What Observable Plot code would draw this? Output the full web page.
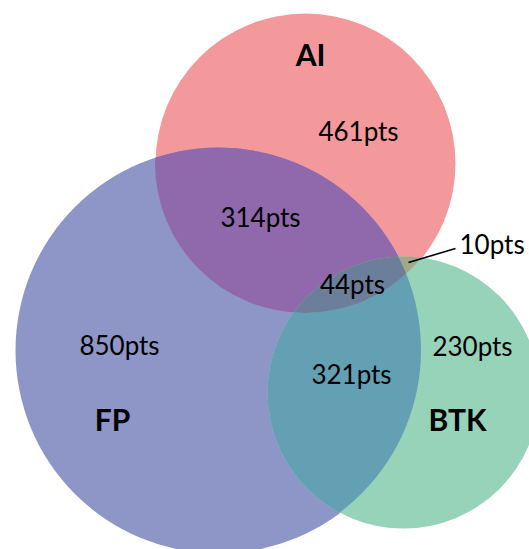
<!DOCTYPE html>
<html>
<head>
<meta charset="utf-8">
<script src="https://cdn.jsdelivr.net/npm/d3@7"></script>
<script src="https://cdn.jsdelivr.net/npm/@observablehq/plot@0.6"></script>
<style>
  html, body { margin: 0; padding: 0; background: #ffffff; }
  #chart svg { display: block; }
</style>
</head>
<body>
<div id="chart"></div>
<script>
// Sets and their region counts (points)
const sets = ["AI", "FP", "BTK"];
const regions = ["AI only", "AI ∩ FP", "AI ∩ FP ∩ BTK", "AI ∩ BTK", "FP only", "FP ∩ BTK", "BTK only"];
const counts = [461, 314, 44, 10, 850, 321, 230];

// Circle geometry in pixel space, plus the colour of each set's exclusive area
const circleLayout = {
  AI:  {cx: 305, cy: 163, r: 150, fill: "#F4999B"},
  FP:  {cx: 218, cy: 350, r: 203, fill: "#8E96C8"},
  BTK: {cx: 403, cy: 392, r: 136, fill: "#97D3B9"}
};
// Overlap areas: one circle painted inside the others
const overlapLayout = [
  {draw: "FP",  within: ["AI"],       fill: "#8F69AC"},
  {draw: "BTK", within: ["FP"],       fill: "#64A0B4"},
  {draw: "BTK", within: ["AI"],       fill: "#A2A88A"},
  {draw: "BTK", within: ["AI", "FP"], fill: "#6B7F9B"}
];
const setLabelLayout = {
  AI:  {x: 310, y: 56},
  FP:  {x: 112, y: 421},
  BTK: {x: 457, y: 421}
};
const regionLabelLayout = {
  "AI only":       {x: 358, y: 132, anchor: "middle"},
  "AI ∩ FP":       {x: 260, y: 218, anchor: "middle"},
  "AI ∩ FP ∩ BTK": {x: 352, y: 285, anchor: "middle"},
  "AI ∩ BTK":      {x: 459, y: 245, anchor: "start"},
  "FP only":       {x: 119, y: 346, anchor: "middle"},
  "FP ∩ BTK":      {x: 351, y: 375, anchor: "middle"},
  "BTK only":      {x: 472, y: 347, anchor: "middle"}
};
// Leader line for the small AI ∩ BTK region
const leader = {from: {x: 408, y: 262}, to: {x: 455, y: 248}};

const circles = sets.map(s => ({set: s, ...circleLayout[s]}));
const setLabels = sets.map(s => ({set: s, ...setLabelLayout[s]}));
const regionLabels = regions.map((r, i) => ({region: r, count: counts[i], ...regionLabelLayout[r]}));

const W = 529, H = 549;
const font = "Lato, 'Open Sans', sans-serif";
const svgNS = "http://www.w3.org/2000/svg";
let clipCount = 0;

// Render transform: clip a mark's output to the given set circles
const clipToSets = within => (index, scales, values, dimensions, context, next) => {
  let node = next(index, scales, values, dimensions, context);
  for (const s of within) {
    const c = circleLayout[s];
    const id = `venn-clip-${++clipCount}`;
    const outer = document.createElementNS(svgNS, "g");
    const cp = document.createElementNS(svgNS, "clipPath");
    cp.setAttribute("id", id);
    const shape = document.createElementNS(svgNS, "circle");
    shape.setAttribute("cx", scales.x(c.cx));
    shape.setAttribute("cy", scales.y(c.cy));
    shape.setAttribute("r", c.r);
    cp.appendChild(shape);
    const inner = document.createElementNS(svgNS, "g");
    inner.setAttribute("clip-path", `url(#${id})`);
    inner.appendChild(node);
    outer.appendChild(cp);
    outer.appendChild(inner);
    node = outer;
  }
  return node;
};

const chart = Plot.plot({
  width: W,
  height: H,
  margin: 0,
  style: {fontFamily: font, background: "#ffffff"},
  x: {domain: [0, W], range: [0, W], axis: null},
  y: {domain: [0, H], range: [0, H], axis: null},
  r: {type: "identity"},
  marks: [
    Plot.dot(circles, {
      x: "cx", y: "cy", r: "r", sort: null,
      fill: d => d.fill, stroke: null
    }),
    ...overlapLayout.map(o => Plot.dot([circleLayout[o.draw]], {
      x: "cx", y: "cy", r: "r",
      fill: o.fill, stroke: null,
      render: clipToSets(o.within)
    })),
    Plot.link([leader], {
      x1: d => d.from.x, y1: d => d.from.y,
      x2: d => d.to.x, y2: d => d.to.y,
      stroke: "#000000", strokeWidth: 1.6
    }),
    Plot.text(regionLabels.filter(d => d.anchor === "middle"), {
      x: "x", y: "y", text: d => `${d.count}pts`,
      fontSize: 26, fill: "#000000", textAnchor: "middle", lineAnchor: "middle"
    }),
    Plot.text(regionLabels.filter(d => d.anchor === "start"), {
      x: "x", y: "y", text: d => `${d.count}pts`,
      fontSize: 26, fill: "#000000", textAnchor: "start", lineAnchor: "middle"
    }),
    Plot.text(setLabels, {
      x: "x", y: "y", text: "set",
      fontSize: 30, fontWeight: "bold", fill: "#000000",
      textAnchor: "middle", lineAnchor: "middle"
    })
  ]
});

document.getElementById("chart").appendChild(chart);
</script>
</body>
</html>
